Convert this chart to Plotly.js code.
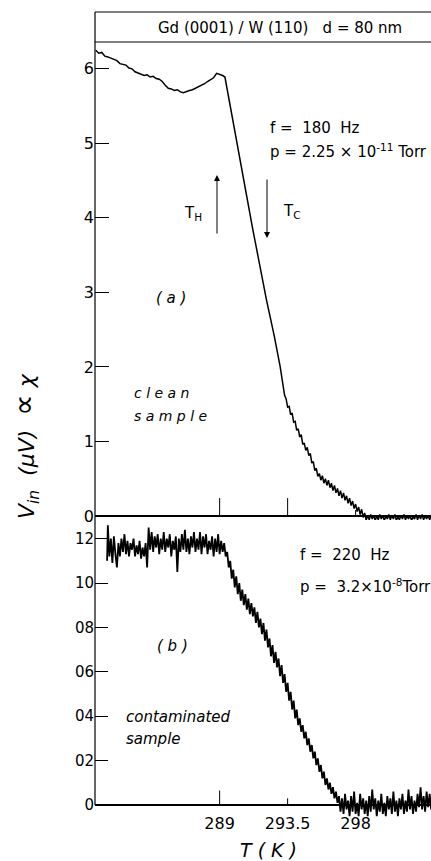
<!DOCTYPE html>
<html><head><meta charset="utf-8">
<script src="https://cdn.plot.ly/plotly-3.0.1.min.js"></script>
<style>html,body{margin:0;padding:0;background:#fff;}#chart{width:431px;height:861px;}</style>
</head><body><div id="chart"></div>
<script>
// Clean sample (a): temperature (K) and signal (µV)
const T_clean = [280.8,281.0,281.2,281.4,281.6,281.8,282.0,282.2,282.4,282.6,282.8,283.0,283.2,283.4,283.6,283.8,284.0,284.2,284.4,284.6,284.8,285.0,285.2,285.4,285.6,285.8,286.0,286.2,286.4,286.6,286.8,287.0,287.2,287.4,287.6,287.8,288.0,288.2,288.4,288.6,288.8,289.0,289.2,289.35,
290.8,291.2,291.65,292.1,292.6,293.0,293.3,
293.4,293.5,293.6,293.7,293.8,293.9,294.0,294.1,294.2,294.3,294.4,294.5,294.6,294.7,294.8,294.9,295.0,295.1,295.2,295.3,295.4,295.5,295.6,295.7,295.8,295.9,296.0,296.1,296.2,296.3,296.4,296.5,296.6,296.7,296.8,296.9,297.0,297.1,297.2,297.3,297.4,297.5,297.6,297.7,297.8,297.9,298.0,298.1,298.2,298.3,298.4,298.5,298.6,298.7,298.8,298.9,299.0,299.1,299.2,299.3,299.4,299.5,299.6,299.7,299.8,299.9,300.0,300.1,300.2,300.3,300.4,300.5,300.6,300.7,300.8,300.9,301.0,301.1,301.2,301.3,301.4,301.5,301.6,301.7,301.8,301.9,302.0,302.1,302.2,302.3,302.4,302.5,302.6,302.7,302.8,302.9,303.0];
const V_clean = [6.25,6.21,6.22,6.17,6.16,6.14,6.12,6.11,6.07,6.06,6.05,6.01,6.00,5.96,5.94,5.93,5.91,5.92,5.89,5.90,5.87,5.86,5.83,5.78,5.74,5.73,5.71,5.72,5.69,5.68,5.70,5.71,5.72,5.74,5.75,5.77,5.80,5.83,5.86,5.88,5.94,5.93,5.91,5.89,
4.24,3.84,3.37,2.90,2.43,2.01,1.62,
1.57,1.46,1.47,1.36,1.38,1.26,1.27,1.15,1.17,1.06,1.09,0.96,0.98,0.88,0.92,0.81,0.84,0.71,0.73,0.61,0.64,0.53,0.57,0.48,0.54,0.44,0.50,0.41,0.48,0.38,0.44,0.34,0.41,0.31,0.37,0.27,0.34,0.24,0.31,0.21,0.27,0.17,0.24,0.14,0.20,0.10,0.16,0.06,0.12,0.02,0.09,-0.02,0.04,-0.06,0.01,-0.05,0.02,-0.04,0.01,-0.06,0.00,-0.05,0.02,-0.04,0.01,-0.06,0.00,-0.04,0.02,-0.05,0.01,-0.04,0.02,-0.06,-0.01,-0.05,0.01,-0.04,0.02,-0.05,0.00,-0.04,0.01,-0.06,-0.01,-0.04,0.02,-0.05,0.01,-0.04,0.02,-0.05,0.00,-0.04,0.01,-0.05,0.00];

// Contaminated sample (b)
const T_cont = [281.55,281.6,281.7,281.8,281.9,282.0,282.1,282.2,282.3,282.4,282.5,282.6,282.7,282.8,282.9,283.0,283.1,283.2,283.3,283.4,283.5,283.6,283.7,283.8,283.9,284.0,284.1,284.2,284.3,284.4,284.5,284.6,284.7,284.8,284.9,285.0,285.1,285.2,285.3,285.4,285.5,285.6,285.7,285.8,285.9,286.0,286.1,286.2,286.3,286.4,286.5,286.6,286.7,286.8,286.9,287.0,287.1,287.2,287.3,287.4,287.5,287.6,287.7,287.8,287.9,288.0,288.1,288.2,288.3,288.4,288.5,288.6,288.7,288.8,288.9,289.0,289.1,289.2,289.3,289.4,
289.5,289.6,289.7,289.8,289.9,290.0,290.1,290.2,290.3,290.4,290.5,290.6,290.7,290.8,290.9,291.0,291.1,291.2,291.3,291.4,291.5,291.6,291.7,291.8,291.9,292.0,292.1,292.2,292.3,292.4,292.5,292.6,292.7,292.8,292.9,293.0,293.1,293.2,293.3,293.4,293.5,293.6,293.7,293.8,293.9,294.0,294.1,294.2,294.3,294.4,294.5,294.6,294.7,294.8,294.9,295.0,295.1,295.2,295.3,295.4,295.5,295.6,295.7,295.8,295.9,296.0,296.1,296.2,296.3,296.4,296.5,296.6,296.7,296.8,296.9,
297.0,297.1,297.2,297.3,297.4,297.5,297.6,297.7,297.8,297.9,298.0,298.1,298.2,298.3,298.4,298.5,298.6,298.7,298.8,298.9,299.0,299.1,299.2,299.3,299.4,299.5,299.6,299.7,299.8,299.9,300.0,300.1,300.2,300.3,300.4,300.5,300.6,300.7,300.8,300.9,301.0,301.1,301.2,301.3,301.4,301.5,301.6,301.7,301.8,301.9,302.0,302.1,302.2,302.3,302.4,302.5,302.6,302.7,302.8,302.9,303.0];
const V_cont = [1.10,1.26,1.12,1.20,1.09,1.21,1.13,1.07,1.18,1.12,1.20,1.14,1.22,1.13,1.19,1.12,1.18,1.15,1.20,1.12,1.17,1.13,1.19,1.11,1.16,1.12,1.18,1.07,1.25,1.15,1.23,1.14,1.21,1.16,1.22,1.13,1.20,1.15,1.23,1.14,1.20,1.16,1.22,1.12,1.19,1.15,1.21,1.05,1.20,1.14,1.22,1.15,1.24,1.14,1.20,1.13,1.21,1.16,1.23,1.14,1.20,1.15,1.23,1.13,1.21,1.16,1.22,1.13,1.19,1.15,1.21,1.12,1.20,1.14,1.22,1.13,1.19,1.14,1.18,1.12,
1.14,1.07,1.10,1.02,1.06,0.98,1.03,0.95,1.00,0.92,0.97,0.90,0.95,0.88,0.93,0.86,0.91,0.85,0.89,0.82,0.87,0.80,0.84,0.77,0.82,0.74,0.79,0.71,0.75,0.67,0.72,0.64,0.69,0.62,0.66,0.58,0.63,0.55,0.59,0.51,0.55,0.47,0.51,0.43,0.47,0.39,0.43,0.36,0.39,0.33,0.36,0.30,0.33,0.27,0.30,0.24,0.27,0.21,0.24,0.18,0.21,0.15,0.18,0.12,0.15,0.09,0.12,0.07,0.10,0.05,0.08,0.03,0.06,0.01,0.04,
-0.03,0.03,-0.04,0.05,-0.02,0.02,-0.05,0.04,-0.03,0.06,-0.04,0.01,-0.05,0.05,-0.02,0.03,-0.04,0.02,-0.05,0.04,-0.03,0.07,-0.02,0.03,-0.05,0.02,-0.03,0.05,-0.04,0.01,-0.05,0.04,-0.02,0.03,-0.04,0.06,-0.03,0.02,-0.05,0.03,-0.02,0.05,-0.04,0.02,-0.03,0.07,-0.02,0.04,-0.04,0.02,-0.03,0.05,-0.01,0.08,-0.02,0.04,-0.03,0.06,-0.01,0.05,-0.02];

const xTickVals = [289, 293.5, 298];
const xTickText = ['289', '293.5', '298'];
const yTopTicks = [0, 1, 2, 3, 4, 5, 6];
const yBotTicks = [0, 0.2, 0.4, 0.6, 0.8, 1.0, 1.2];
const yBotText = ['0', '02', '04', '06', '08', '10', '12'];
const topMarkH = [0.24, 0.24, 0.08];
const botMarkH = [0.065, 0.03, 0];

const W = 431, H = 861;
const px = x => x / W;
const py = y => 1 - y / H;
const FONT = 'DejaVu Sans, sans-serif';

const traces = [
  {x: T_clean, y: V_clean, xaxis: 'x', yaxis: 'y', mode: 'lines', line: {color: '#000', width: 1.5}, hoverinfo: 'skip'},
  {x: T_cont, y: V_cont, xaxis: 'x', yaxis: 'y2', mode: 'lines', line: {color: '#000', width: 1.8}, hoverinfo: 'skip'}
];

const shapes = [
  {type: 'line', xref: 'paper', yref: 'paper', x0: px(95), x1: px(95), y0: py(805), y1: py(12), line: {color: '#000', width: 1.2}},
  {type: 'line', xref: 'paper', yref: 'paper', x0: px(95), x1: 1.05, y0: py(12), y1: py(12), line: {color: '#000', width: 1.2}},
  {type: 'line', xref: 'paper', yref: 'paper', x0: px(95), x1: 1.05, y0: py(42), y1: py(42), line: {color: '#000', width: 1.2}}
];
xTickVals.forEach((t, i) => {
  if (topMarkH[i] > 0) shapes.push({type: 'line', xref: 'x', yref: 'y', x0: t, x1: t, y0: 0, y1: topMarkH[i], line: {color: '#000', width: 1}});
  if (botMarkH[i] > 0) shapes.push({type: 'line', xref: 'x', yref: 'y2', x0: t, x1: t, y0: 0, y1: botMarkH[i], line: {color: '#000', width: 1}});
});

const ann = (x, y, text, opts) => Object.assign({xref: 'paper', yref: 'paper', x: px(x), y: py(y), text: text, showarrow: false, xanchor: 'left', yanchor: 'middle', font: {family: FONT, size: 15, color: '#000'}}, opts || {});

const annotations = [
  ann(280, 28, 'Gd (0001) / W (110)\u00a0\u00a0\u00a0d = 80 nm', {xanchor: 'center'}),
  ann(268, 128, 'f =\u00a0\u00a0180\u00a0\u00a0Hz'),
  ann(268, 151, 'p = 2.25 × 10<sup>-11</sup> Torr'),
  ann(182, 214, 'T<sub>H</sub>'),
  ann(281, 212, 'T<sub>C</sub>'),
  ann(154, 298, '<i>( a )</i>'),
  ann(132, 393, '<i>c l e a n</i>', {font: {family: FONT, size: 14, color: '#000'}}),
  ann(132, 416, '<i>s a m p l e</i>', {font: {family: FONT, size: 14, color: '#000'}}),
  ann(298, 555, 'f =\u00a0\u00a0220\u00a0\u00a0Hz'),
  ann(298, 586, 'p =\u00a0\u00a03.2×10<sup>-8</sup>Torr'),
  ann(155, 646, '<i>( b )</i>'),
  ann(124, 717, '<i>contaminated</i>'),
  ann(124, 739, '<i>sample</i>'),
  ann(25, 446, '<i>V<sub>in</sub>\u00a0\u00a0(μV)\u00a0\u00a0<span style="font-size:30px">∝</span>\u00a0χ</i>', {xanchor: 'center', textangle: -90, font: {family: FONT, size: 22, color: '#000'}}),
  ann(268, 850, '<i>T ( K )</i>', {xanchor: 'center', font: {family: FONT, size: 19, color: '#000'}}),
  {xref: 'paper', yref: 'paper', x: px(217), y: py(175), ax: 0, ay: 60, text: '', showarrow: true, arrowhead: 2, arrowsize: 1.2, arrowwidth: 1, arrowcolor: '#000'},
  {xref: 'paper', yref: 'paper', x: px(267), y: py(238), ax: 0, ay: -60, text: '', showarrow: true, arrowhead: 2, arrowsize: 1.2, arrowwidth: 1, arrowcolor: '#000'}
];

const layout = {
  width: W, height: H,
  margin: {l: 0, r: 0, t: 0, b: 0},
  paper_bgcolor: '#fff', plot_bgcolor: 'rgba(0,0,0,0)',
  showlegend: false,
  font: {family: FONT, color: '#000'},
  xaxis: {domain: [px(95), 1], range: [280.75, 302.99], anchor: 'free', position: py(812),
    showline: false, showgrid: false, zeroline: false, ticks: '',
    tickmode: 'array', tickvals: xTickVals, ticktext: xTickText, tickfont: {family: FONT, size: 16, color: '#000'}},
  yaxis: {domain: [py(520), py(42)], range: [-0.054, 6.36], anchor: 'x',
    showline: false, showgrid: false, zeroline: true, zerolinecolor: '#000', zerolinewidth: 1.5,
    ticks: 'inside', ticklen: 14, tickwidth: 1, tickcolor: '#000',
    tickmode: 'array', tickvals: yTopTicks, tickfont: {family: FONT, size: 16, color: '#000'}},
  yaxis2: {domain: [py(818.3), py(516)], range: [-0.06, 1.302], anchor: 'x',
    showline: false, showgrid: false, zeroline: true, zerolinecolor: '#000', zerolinewidth: 1.5,
    ticks: 'inside', ticklen: 13, tickwidth: 1, tickcolor: '#000',
    tickmode: 'array', tickvals: yBotTicks, ticktext: yBotText, tickfont: {family: FONT, size: 15, color: '#000'}},
  shapes: shapes,
  annotations: annotations
};

Plotly.newPlot('chart', traces, layout, {staticPlot: true, displayModeBar: false});
</script></body></html>
